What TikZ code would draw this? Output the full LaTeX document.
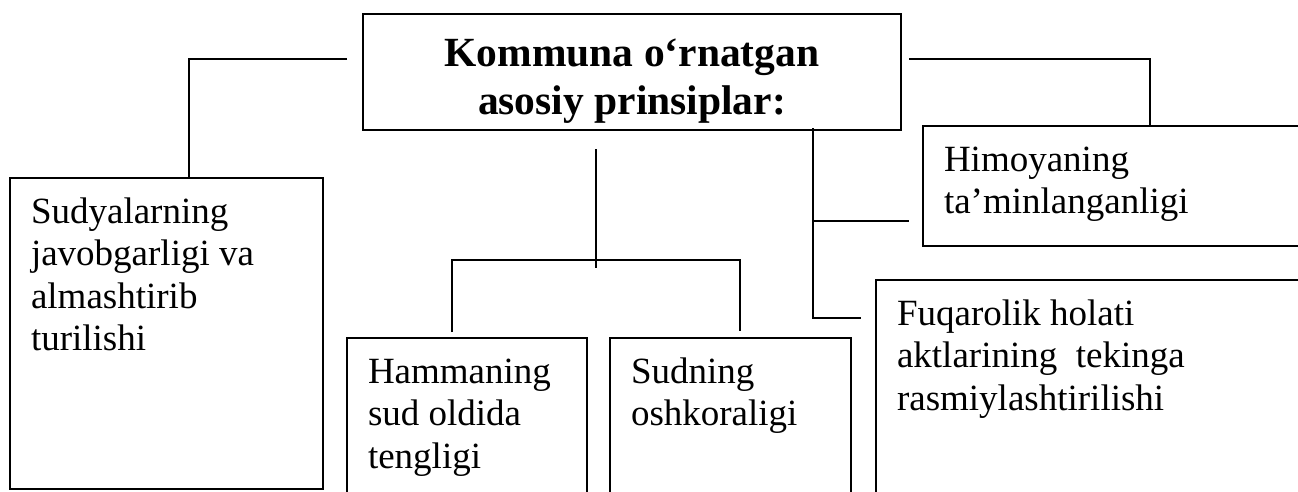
\documentclass[tikz,border=0pt]{standalone}
\usepackage{fontspec}
\setmainfont{Liberation Serif}
\newcommand\bodyfont{\fontsize{37}{42.5}\selectfont}
\newcommand\titlefont{\fontsize{41.5}{48}\selectfont\bfseries}
\newcommand\btext[2]{\parbox[t]{#1}{\bodyfont\raggedright #2}}
\begin{document}
\begin{tikzpicture}[x=1pt,y=-1pt,
  box/.style={draw,line width=2pt,anchor=north west,inner xsep=21pt,inner ysep=0pt,text height=45pt},
  conn/.style={line width=1.2pt}]
\useasboundingbox (0,0) rectangle (1298,491);
\fill[white] (0,0) rectangle (1298,491);
\clip (0,0) rectangle (1298,491);
% boxes
\node[box,inner xsep=0pt,text height=52pt,text depth=64pt] (main) at (362,13)
  {\parbox[t]{538pt}{\titlefont\centering Kommuna o‘rnatgan\\asosiy prinsiplar:}};
\node[box,text depth=266pt] (L) at (9,177)
  {\btext{271pt}{Sudyalarning\\javobgarligi va\\almashtirib\\turilishi}};
\node[box,text depth=200pt] (H) at (346,337)
  {\btext{198pt}{Hammaning\\sud oldida\\tengligi}};
\node[box,text depth=200pt] (S) at (609,337)
  {\btext{199pt}{Sudning\\oshkoraligi}};
\node[box,text depth=75pt] (Him) at (922,125)
  {\btext{358pt}{Himoyaning\\ta’minlanganligi}};
\node[box,text depth=200pt] (F) at (875,279)
  {\btext{408pt}{Fuqarolik holati\\aktlarining\ \ tekinga\\rasmiylashtirilishi}};
% connector coordinates
\coordinate (lc) at (347,59);
\coordinate (rc) at (909,59);
\coordinate (ct) at (596,149);
\coordinate (cb) at (596,268);
\coordinate (cm) at (596,260);
\coordinate (bj) at (813,221);
\coordinate (hj) at (909,221);
\coordinate (fj) at (861,318);
% connectors
\draw[conn] (lc) -| ([xshift=180pt]L.north west);
\draw[conn] (rc) -| ([xshift=228pt]Him.north west);
\draw[conn] (ct) -- (cb);
\draw[conn] ([shift={(106pt,5pt)}]H.north west) |- (cm) -| ([shift={(131pt,6pt)}]S.north west);
\draw[conn] ([xshift=451pt,yshift=3pt]main.south west) |- (fj);
\draw[conn] (bj) -- (hj);
\end{tikzpicture}
\end{document}
